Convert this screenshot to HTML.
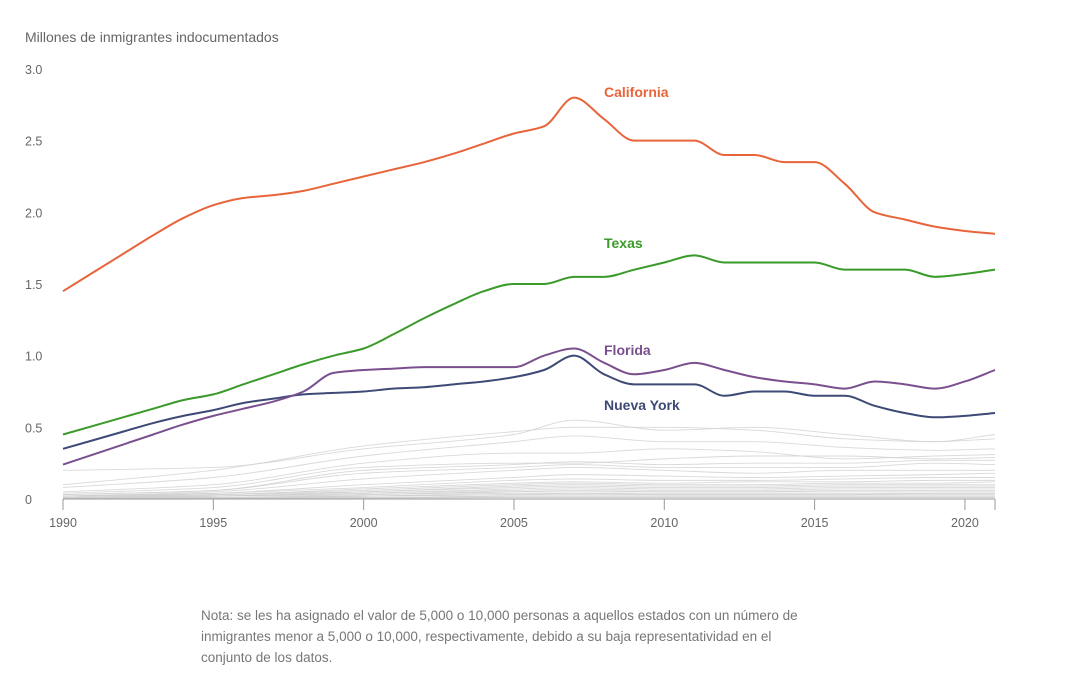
<!DOCTYPE html>
<html><head><meta charset="utf-8">
<style>
body{margin:0;background:#fff;font-family:"Liberation Sans",Arial,sans-serif;}
#wrap{position:relative;width:1072px;height:685px;overflow:hidden;}
.note{position:absolute;left:201px;top:605px;width:620px;font-size:13.5px;line-height:21px;color:#777;}
</style></head><body>
<div id="wrap">
<svg id="chart" width="1072" height="685"></svg>
<div class="note">Nota: se les ha asignado el valor de 5,000 o 10,000 personas a aquellos estados con un número de inmigrantes menor a 5,000 o 10,000, respectivamente, debido a su baja representatividad en el conjunto de los datos.</div>
</div>
<script>
const years = Array.from({length:32},(_,i)=>1990+i);
const california = [1.45,1.58,1.71,1.84,1.96,2.05,2.10,2.12,2.15,2.20,2.25,2.30,2.35,2.41,2.48,2.55,2.60,2.80,2.65,2.50,2.50,2.50,2.40,2.40,2.35,2.35,2.20,2.00,1.95,1.90,1.87,1.85];
const texas = [0.45,0.51,0.57,0.63,0.69,0.73,0.80,0.87,0.94,1.00,1.05,1.15,1.26,1.36,1.45,1.50,1.50,1.55,1.55,1.60,1.65,1.70,1.65,1.65,1.65,1.65,1.60,1.60,1.60,1.55,1.57,1.60];
const florida = [0.24,0.31,0.38,0.45,0.52,0.58,0.63,0.68,0.75,0.88,0.90,0.91,0.92,0.92,0.92,0.92,1.00,1.05,0.95,0.87,0.90,0.95,0.90,0.85,0.82,0.80,0.77,0.82,0.80,0.77,0.82,0.90];
const nuevaYork = [0.35,0.41,0.47,0.53,0.58,0.62,0.67,0.70,0.73,0.74,0.75,0.77,0.78,0.80,0.82,0.85,0.90,1.00,0.87,0.80,0.80,0.80,0.72,0.75,0.75,0.72,0.72,0.65,0.60,0.57,0.58,0.60];
const otherYears = [1990,1995,2000,2005,2007,2010,2013,2016,2019,2021];
const otherStates = [
 [0.20,0.22,0.35,0.45,0.55,0.48,0.50,0.45,0.40,0.45],
 [0.10,0.20,0.37,0.47,0.50,0.50,0.48,0.42,0.40,0.42],
 [0.08,0.15,0.30,0.40,0.44,0.40,0.40,0.36,0.34,0.35],
 [0.05,0.10,0.25,0.32,0.32,0.35,0.33,0.28,0.30,0.31],
 [0.04,0.08,0.22,0.25,0.25,0.28,0.30,0.30,0.28,0.29],
 [0.03,0.06,0.20,0.24,0.26,0.24,0.25,0.25,0.27,0.27],
 [0.03,0.06,0.18,0.22,0.24,0.22,0.22,0.22,0.25,0.24],
 [0.02,0.05,0.14,0.20,0.22,0.20,0.18,0.20,0.20,0.20],
 [0.02,0.04,0.10,0.15,0.17,0.16,0.15,0.16,0.17,0.18],
 [0.02,0.04,0.08,0.13,0.14,0.13,0.13,0.14,0.15,0.15],
 [0.02,0.03,0.07,0.11,0.12,0.11,0.12,0.12,0.13,0.13],
 [0.01,0.03,0.06,0.10,0.11,0.10,0.10,0.11,0.11,0.12],
 [0.01,0.03,0.05,0.09,0.10,0.09,0.09,0.10,0.10,0.10],
 [0.01,0.02,0.05,0.08,0.09,0.08,0.08,0.09,0.09,0.09],
 [0.01,0.02,0.04,0.07,0.08,0.07,0.07,0.08,0.08,0.08],
 [0.01,0.02,0.04,0.06,0.07,0.06,0.06,0.07,0.07,0.07],
 [0.01,0.02,0.03,0.05,0.06,0.05,0.05,0.06,0.06,0.06],
 [0.01,0.01,0.03,0.05,0.05,0.05,0.05,0.05,0.05,0.05],
 [0.01,0.01,0.02,0.04,0.04,0.04,0.04,0.04,0.04,0.04],
 [0.01,0.01,0.02,0.03,0.04,0.03,0.03,0.03,0.04,0.04],
 [0.01,0.01,0.02,0.03,0.03,0.03,0.03,0.03,0.03,0.03],
 [0.01,0.01,0.01,0.02,0.02,0.02,0.02,0.02,0.02,0.02],
 [0.005,0.01,0.01,0.02,0.02,0.02,0.02,0.02,0.02,0.02],
 [0.005,0.005,0.01,0.01,0.01,0.01,0.01,0.01,0.01,0.01],
 [0.005,0.005,0.01,0.01,0.01,0.01,0.01,0.01,0.01,0.01],
 [0.005,0.005,0.005,0.01,0.01,0.01,0.01,0.01,0.01,0.01]
];
const yTicks = [0,0.5,1.0,1.5,2.0,2.5,3.0];
const yTickLabels = ["0","0.5","1.0","1.5","2.0","2.5","3.0"];
const xTicks = [1990,1995,2000,2005,2010,2015,2020];

const NS="http://www.w3.org/2000/svg";
const svg=document.getElementById('chart');
const x=v=>63+(v-1990)*(995-63)/31;
const y=v=>499-v*(499-69)/3;
function mk(t,a){const e=document.createElementNS(NS,t);for(const k in a)e.setAttribute(k,a[k]);svg.appendChild(e);return e;}
function monotone(xs,ys){
 const n=xs.length,d=[],m=[];
 for(let i=0;i<n-1;i++)d.push((ys[i+1]-ys[i])/(xs[i+1]-xs[i]));
 m[0]=d[0];m[n-1]=d[n-2];
 for(let i=1;i<n-1;i++){m[i]=(d[i-1]*d[i]<=0)?0:(3*(xs[i+1]-xs[i-1]))/((2*xs[i+1]-xs[i]-xs[i-1])/d[i-1]+(xs[i+1]+xs[i]-2*xs[i-1])/d[i]);}
 let p=`M${xs[0]},${ys[0]}`;
 for(let i=0;i<n-1;i++){const h=(xs[i+1]-xs[i])/3;p+=` C${xs[i]+h},${ys[i]+m[i]*h} ${xs[i+1]-h},${ys[i+1]-m[i+1]*h} ${xs[i+1]},${ys[i+1]}`;}
 return p;
}
function txt(s,a){const e=mk('text',a);e.textContent=s;return e;}

const title=txt("Millones de inmigrantes indocumentados",{x:25,y:42,'font-size':14,fill:'#666'});



yTicks.forEach((v,i)=>{
 const t=txt(yTickLabels[i],{x:25,y:y(v)+5,'font-size':12.5,fill:'#666'});
 
 
});

otherStates.forEach(s=>{
 const p=mk('path',{d:monotone(otherYears.map(x),s.map(y)),fill:'none',stroke:'#cfcfcf','stroke-width':0.9,'stroke-opacity':0.8});
 
 
});

const axis=mk('line',{x1:63,x2:995,y1:499,y2:499,stroke:'#999','stroke-width':1});


[...xTicks,2021].forEach(v=>{
 const l=mk('line',{x1:x(v),x2:x(v),y1:499,y2:510,stroke:'#999','stroke-width':1});
 
 
});
xTicks.forEach(v=>{
 const t=txt(String(v),{x:x(v),y:527,'font-size':12.5,fill:'#666','text-anchor':'middle'});
 
 
});

const series=[
 {name:'California',data:california,color:'#e8643a',ly:97,id:'california'},
 {name:'Texas',data:texas,color:'#3a9a2a',ly:248,id:'texas'},
 {name:'Florida',data:florida,color:'#7a4f8e',ly:355,id:'florida'},
 {name:'Nueva York',data:nuevaYork,color:'#3d4a75',ly:410,id:'nueva-york'}
];
[series[3],series[2],series[1],series[0]].forEach(s=>{
 const p=mk('path',{d:monotone(years.map(x),s.data.map(y)),fill:'none',stroke:s.color,'stroke-width':2});
 
 
});
series.forEach(s=>{
 const t=txt(s.name,{x:604,y:s.ly,'font-size':14,'font-weight':'bold',fill:s.color});
 
 
});
</script>
</body></html>
